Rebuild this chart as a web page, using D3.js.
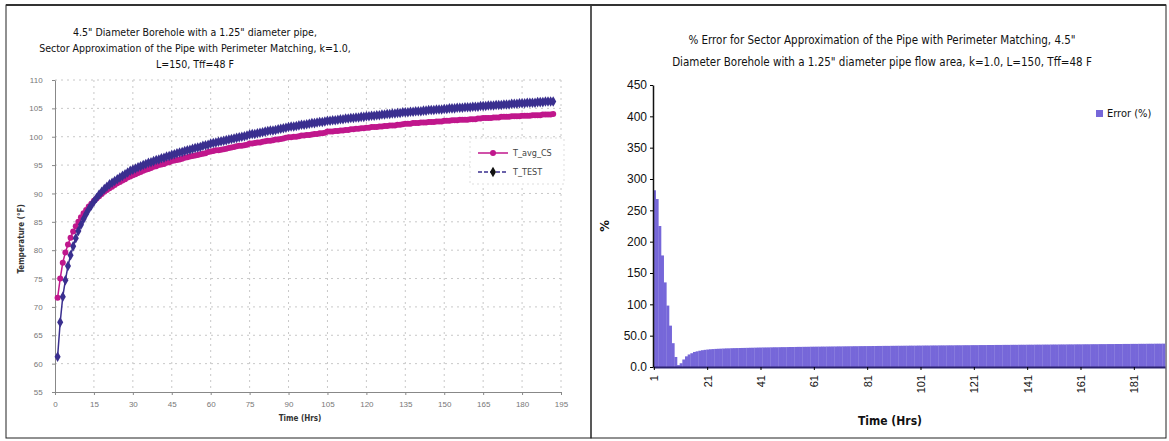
<!DOCTYPE html>
<html>
<head>
<meta charset="utf-8">
<script src="https://cdn.jsdelivr.net/npm/d3@7"></script>
<style>
  body { margin: 0; background: #fff; }
  svg { display: block; font-family: "Liberation Sans Narrow", "DejaVu Sans Condensed", "Liberation Sans", sans-serif; }
</style>
</head>
<body>
<div id="chart"></div>
<script>
// hours 1..192
const tTest = [
  61.2, 67.3, 71.8, 74.7, 77.2, 79.1, 80.7, 82.1, 83.4, 84.5,
  85.5, 86.4, 87.2, 87.9, 88.6, 89.2, 89.8, 90.3, 90.8, 91.2,
  91.6, 91.9, 92.2, 92.5, 92.8, 93.1, 93.4, 93.7, 94.0, 94.2,
  94.4, 94.6, 94.8, 95.0, 95.2, 95.4, 95.5, 95.7, 95.9, 96.0,
  96.2, 96.3, 96.5, 96.6, 96.8, 96.9, 97.1, 97.2, 97.3, 97.5,
  97.6, 97.7, 97.9, 98.0, 98.1, 98.2, 98.4, 98.5, 98.6, 98.8,
  98.9, 99.0, 99.1, 99.2, 99.3, 99.4, 99.5, 99.6, 99.7, 99.8,
  99.9, 100.0, 100.1, 100.2, 100.4, 100.5, 100.5, 100.6, 100.7, 100.8,
  100.9, 101.0, 101.1, 101.1, 101.2, 101.3, 101.4, 101.5, 101.6, 101.7,
  101.8, 101.8, 101.9, 102.0, 102.1, 102.1, 102.2, 102.3, 102.4, 102.4,
  102.5, 102.6, 102.6, 102.7, 102.8, 102.8, 102.9, 102.9, 103.0, 103.1,
  103.1, 103.2, 103.2, 103.3, 103.3, 103.4, 103.4, 103.5, 103.5, 103.6,
  103.6, 103.7, 103.7, 103.8, 103.8, 103.9, 103.9, 104.0, 104.0, 104.1,
  104.1, 104.2, 104.2, 104.3, 104.3, 104.3, 104.4, 104.4, 104.5, 104.5,
  104.5, 104.6, 104.6, 104.7, 104.7, 104.7, 104.8, 104.8, 104.8, 104.9,
  104.9, 105.0, 105.0, 105.0, 105.1, 105.1, 105.1, 105.2, 105.2, 105.2,
  105.3, 105.3, 105.3, 105.4, 105.4, 105.4, 105.5, 105.5, 105.5, 105.6,
  105.6, 105.6, 105.7, 105.7, 105.7, 105.8, 105.8, 105.8, 105.9, 105.9,
  105.9, 106.0, 106.0, 106.0, 106.0, 106.1, 106.1, 106.1, 106.2, 106.2, 106.2, 106.2
];
const tAvgCS = [
  71.6, 75.0, 77.8, 79.6, 81.0, 82.2, 83.3, 84.2, 85.0, 85.8,
  86.5, 87.1, 87.7, 88.2, 88.7, 89.1, 89.5, 89.9, 90.3, 90.6,
  90.9, 91.2, 91.5, 91.8, 92.0, 92.3, 92.5, 92.8, 93.0, 93.2,
  93.4, 93.6, 93.8, 94.0, 94.2, 94.3, 94.5, 94.7, 94.8, 95.0,
  95.1, 95.2, 95.4, 95.5, 95.7, 95.8, 95.9, 96.0, 96.1, 96.3,
  96.4, 96.5, 96.6, 96.7, 96.8, 96.9, 97.0, 97.1, 97.3, 97.4,
  97.5, 97.6, 97.6, 97.7, 97.8, 97.9, 98.0, 98.1, 98.2, 98.3,
  98.4, 98.4, 98.5, 98.6, 98.8, 98.8, 98.9, 99.0, 99.0, 99.1,
  99.2, 99.3, 99.3, 99.4, 99.5, 99.5, 99.6, 99.7, 99.8, 99.9,
  99.9, 100.0, 100.0, 100.1, 100.2, 100.2, 100.3, 100.3, 100.4, 100.5,
  100.5, 100.6, 100.6, 100.7, 100.9, 100.9, 100.9, 101.0, 101.0, 101.1,
  101.1, 101.2, 101.2, 101.3, 101.3, 101.4, 101.4, 101.5, 101.5, 101.6,
  101.6, 101.7, 101.7, 101.7, 101.8, 101.8, 101.9, 101.9, 102.0, 102.0,
  102.0, 102.1, 102.1, 102.2, 102.3, 102.3, 102.3, 102.4, 102.4, 102.4,
  102.5, 102.5, 102.5, 102.6, 102.6, 102.6, 102.7, 102.7, 102.7, 102.8,
  102.8, 102.8, 102.9, 102.9, 102.9, 103.0, 103.0, 103.0, 103.0, 103.1,
  103.1, 103.1, 103.2, 103.2, 103.3, 103.3, 103.3, 103.3, 103.4, 103.4,
  103.4, 103.5, 103.5, 103.5, 103.5, 103.6, 103.6, 103.6, 103.6, 103.7,
  103.7, 103.7, 103.7, 103.8, 103.8, 103.8, 103.8, 103.9, 103.9, 103.9, 103.9, 104.0
];
const errorPct = [
  282, 268, 225, 178, 135, 98, 66, 38, 16, 3,
  6, 12, 17, 20, 22, 24, 25, 26, 26.8, 27.4,
  27.9, 28.3, 28.6, 28.9, 29.1, 29.3, 29.5, 29.7, 29.8, 30.0,
  30.1, 30.2, 30.3, 30.4, 30.5, 30.6, 30.7, 30.8, 30.9, 31.0,
  31.1, 31.2, 31.2, 31.3, 31.4, 31.5, 31.5, 31.6, 31.7, 31.7,
  31.8, 31.9, 31.9, 32.0, 32.1, 32.1, 32.2, 32.2, 32.3, 32.4,
  32.4, 32.5, 32.5, 32.6, 32.6, 32.7, 32.7, 32.8, 32.8, 32.9,
  32.9, 33.0, 33.0, 33.1, 33.1, 33.2, 33.2, 33.3, 33.3, 33.4,
  33.4, 33.4, 33.5, 33.5, 33.6, 33.6, 33.7, 33.7, 33.7, 33.8,
  33.8, 33.9, 33.9, 33.9, 34.0, 34.0, 34.1, 34.1, 34.1, 34.2,
  34.2, 34.3, 34.3, 34.3, 34.4, 34.4, 34.4, 34.5, 34.5, 34.5,
  34.6, 34.6, 34.6, 34.7, 34.7, 34.7, 34.8, 34.8, 34.8, 34.9,
  34.9, 34.9, 35.0, 35.0, 35.0, 35.1, 35.1, 35.1, 35.2, 35.2,
  35.2, 35.3, 35.3, 35.3, 35.4, 35.4, 35.4, 35.5, 35.5, 35.5,
  35.6, 35.6, 35.6, 35.7, 35.7, 35.7, 35.8, 35.8, 35.8, 35.9,
  35.9, 35.9, 36.0, 36.0, 36.0, 36.1, 36.1, 36.1, 36.2, 36.2,
  36.2, 36.3, 36.3, 36.3, 36.4, 36.4, 36.4, 36.5, 36.5, 36.5,
  36.6, 36.6, 36.6, 36.7, 36.7, 36.7, 36.8, 36.8, 36.8, 36.9,
  36.9, 36.9, 37.0, 37.0, 37.0, 37.1, 37.1, 37.1, 37.2, 37.2, 37.2, 37.3
];
const hours = d3.range(1, tTest.length + 1);
const tempTicks = d3.range(55, 111, 5);
const timeTicks = d3.range(0, 196, 15);
const errTicks = d3.range(0, 451, 50);
const catTicks = [1, 21, 41, 61, 81, 101, 121, 141, 161, 181];

const leftTitle = [
  '4.5" Diameter Borehole with a 1.25" diameter pipe,',
  'Sector Approximation of the Pipe with Perimeter Matching, k=1.0,',
  'L=150, Tff=48 F'
];
const rightTitle = [
  '% Error for Sector Approximation of the Pipe with Perimeter Matching, 4.5"',
  'Diameter Borehole with a 1.25" diameter pipe flow area, k=1.0, L=150, Tff=48 F'
];

const W = 1169, H = 441;
const svg = d3.select('#chart').append('svg').attr('width', W).attr('height', H);

// panel frames
svg.append('rect').attr('x', 6).attr('y', 5).attr('width', 585).attr('height', 433)
  .attr('fill', 'none').attr('stroke', '#222').attr('stroke-width', 1);
svg.append('rect').attr('x', 591).attr('y', 5).attr('width', 575).attr('height', 433)
  .attr('fill', 'none').attr('stroke', '#222').attr('stroke-width', 1);
svg.append('line').attr('x1', 6).attr('x2', 1166).attr('y1', 5).attr('y2', 5)
  .attr('stroke', '#333').attr('stroke-width', 2);

// ---------- left: temperature ----------
const x = d3.scaleLinear().domain([0, 195]).range([55, 561]);
const y = d3.scaleLinear().domain([55, 110]).range([392, 80]);

const left = svg.append('g');

left.append('g').selectAll('line.v').data(timeTicks.slice(1)).enter().append('line')
  .attr('x1', d => x(d)).attr('x2', d => x(d)).attr('y1', y(110)).attr('y2', y(55))
  .attr('stroke', '#c8c8c8').attr('stroke-dasharray', '2,4');
left.append('g').selectAll('line.h').data(tempTicks.slice(1)).enter().append('line')
  .attr('x1', x(0)).attr('x2', x(195)).attr('y1', d => y(d)).attr('y2', d => y(d))
  .attr('stroke', '#c8c8c8').attr('stroke-dasharray', '2,4');

left.append('g').attr('transform', `translate(0,${y(55)})`)
  .call(d3.axisBottom(x).tickValues(timeTicks).tickSize(3).tickSizeOuter(0))
  .call(g => g.select('.domain').attr('stroke', '#888'))
  .call(g => g.selectAll('.tick line').attr('stroke', '#888'))
  .call(g => g.selectAll('text').attr('font-size', 8).attr('fill', '#777').attr('dy', '1.1em'));
left.append('g').attr('transform', `translate(${x(0)},0)`)
  .call(d3.axisLeft(y).tickValues(tempTicks).tickSize(3).tickSizeOuter(0))
  .call(g => g.select('.domain').attr('stroke', '#888'))
  .call(g => g.selectAll('.tick line').attr('stroke', '#888'))
  .call(g => g.selectAll('text').attr('font-size', 8).attr('fill', '#777').attr('dx', '-0.8em'));

const line = d3.line().x((d, i) => x(hours[i])).y(d => y(d));

left.append('path').datum(tAvgCS).attr('d', line)
  .attr('fill', 'none').attr('stroke', '#c0178c').attr('stroke-width', 1.5);
left.append('g').selectAll('circle').data(tAvgCS).enter().append('circle')
  .attr('cx', (d, i) => x(hours[i])).attr('cy', d => y(d)).attr('r', 3)
  .attr('fill', '#c0178c');

left.append('path').datum(tTest).attr('d', line)
  .attr('fill', 'none').attr('stroke', '#3a2f8f').attr('stroke-width', 1.5);
const diamond = d3.symbol().type(d3.symbolDiamond).size(32);
left.append('g').selectAll('path.m').data(tTest).enter().append('path')
  .attr('transform', (d, i) => `translate(${x(hours[i])},${y(d)})`)
  .attr('d', diamond).attr('fill', '#3a2f8f');

// left legend
const lg = left.append('g').attr('transform', 'translate(470,138)');
lg.append('rect').attr('width', 94).attr('height', 46).attr('fill', '#fff')
  .attr('stroke', '#ddd').attr('stroke-dasharray', '2,3');
lg.append('line').attr('x1', 8).attr('x2', 38).attr('y1', 15).attr('y2', 15)
  .attr('stroke', '#c0178c').attr('stroke-width', 1.5);
lg.append('circle').attr('cx', 23).attr('cy', 15).attr('r', 3).attr('fill', '#c0178c');
lg.append('text').attr('x', 43).attr('y', 18).attr('font-size', 9).attr('fill', '#444').text('T_avg_CS');
lg.append('line').attr('x1', 8).attr('x2', 38).attr('y1', 34).attr('y2', 34)
  .attr('stroke', '#3a2f8f').attr('stroke-width', 1.5).attr('stroke-dasharray', '4,2');
lg.append('path').attr('transform', 'translate(23,34)').attr('d', diamond).attr('fill', '#111');
lg.append('text').attr('x', 43).attr('y', 37).attr('font-size', 9).attr('fill', '#444').text('T_TEST');

left.append('g').selectAll('text').data(leftTitle).enter().append('text')
  .attr('x', 195).attr('y', (d, i) => 36 + i * 16).attr('text-anchor', 'middle')
  .attr('font-size', 10.5).attr('fill', '#111').text(d => d);

left.append('text').attr('x', 300).attr('y', 421).attr('text-anchor', 'middle')
  .attr('font-size', 8).attr('font-weight', 'bold').attr('fill', '#333').text('Time (Hrs)');
left.append('text').attr('transform', `translate(24,${y(82)}) rotate(-90)`)
  .attr('text-anchor', 'middle').attr('font-size', 8).attr('font-weight', 'bold')
  .attr('fill', '#333').text('Temperature (°F)');

// ---------- right: % error ----------
const xb = d3.scaleBand().domain(hours).range([653, 1165]).padding(0);
const yb = d3.scaleLinear().domain([0, 450]).range([367, 85]);

const right = svg.append('g');

right.append('g').selectAll('rect').data(errorPct).enter().append('rect')
  .attr('x', (d, i) => xb(hours[i])).attr('width', xb.bandwidth() + 0.3)
  .attr('y', d => yb(d)).attr('height', d => yb(0) - yb(d))
  .attr('fill', '#7667d9');

right.append('g').attr('transform', `translate(0,${yb(0)})`)
  .call(d3.axisBottom(xb).tickValues(catTicks).tickSize(3).tickSizeOuter(0))
  .call(g => g.select('.domain').attr('stroke', '#2a2270').attr('stroke-width', 2))
  .call(g => g.selectAll('text').attr('font-size', 11).attr('fill', '#111')
    .attr('transform', 'rotate(-90)').attr('text-anchor', 'end')
    .attr('x', -8).attr('y', 0).attr('dy', '0.35em'));
right.append('g').attr('transform', `translate(${xb.range()[0]},0)`)
  .call(d3.axisLeft(yb).tickValues(errTicks).tickSize(3).tickSizeOuter(0)
    .tickFormat(d => d < 100 ? d.toFixed(1) : d))
  .call(g => g.select('.domain').attr('stroke', '#111').attr('stroke-width', 1.5))
  .call(g => g.selectAll('text').attr('font-size', 12).attr('fill', '#111'));

right.append('g').selectAll('text').data(rightTitle).enter().append('text')
  .attr('x', 882).attr('y', (d, i) => 44 + i * 22).attr('text-anchor', 'middle')
  .attr('font-size', 11.5).attr('fill', '#111').text(d => d);

right.append('text').attr('x', 890).attr('y', 425).attr('text-anchor', 'middle')
  .attr('font-size', 12).attr('font-weight', 'bold').attr('fill', '#111').text('Time (Hrs)');
right.append('text').attr('transform', 'translate(609,226) rotate(-90)')
  .attr('text-anchor', 'middle').attr('font-size', 13).attr('font-weight', 'bold')
  .attr('fill', '#111').text('%');

const rg = right.append('g').attr('transform', 'translate(1096,110)');
rg.append('rect').attr('width', 7).attr('height', 7).attr('fill', '#7667d9');
rg.append('text').attr('x', 11).attr('y', 7).attr('font-size', 11).attr('fill', '#111').text('Error (%)');
</script>
</body>
</html>
